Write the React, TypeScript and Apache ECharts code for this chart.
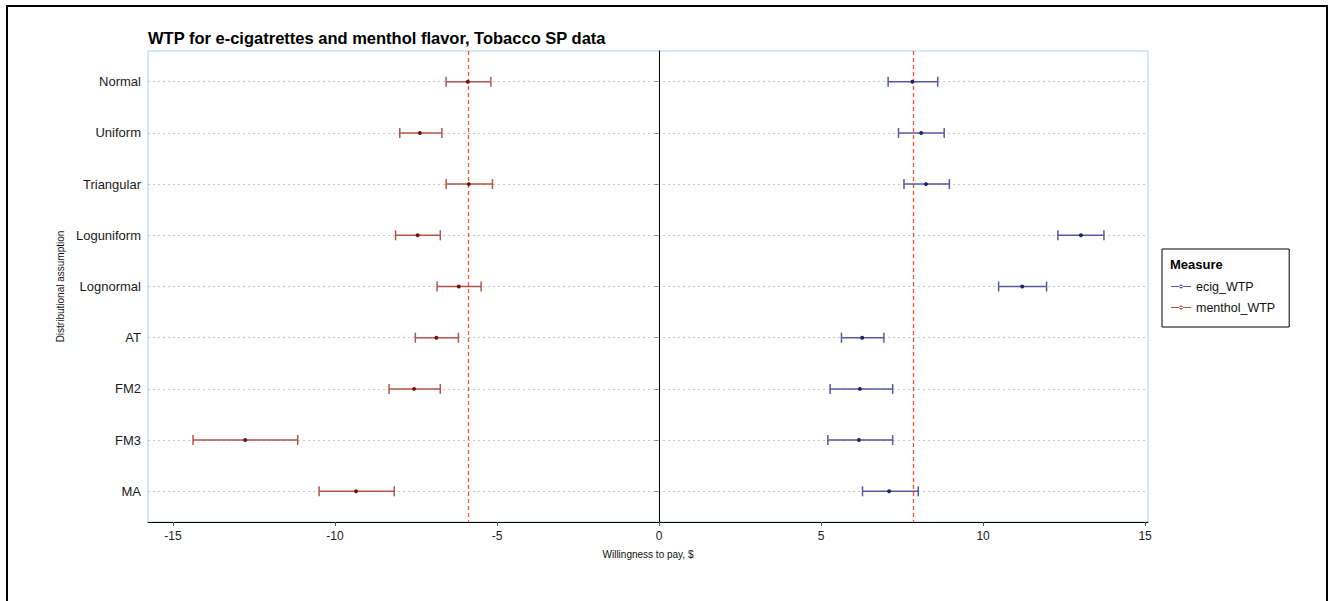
import React, { useEffect, useRef } from "react";
import * as echarts from "echarts";

const categories = ["Normal", "Uniform", "Triangular", "Loguniform", "Lognormal", "AT", "FM2", "FM3", "MA"];

// [low, estimate, high]
const ecigWTP: number[][] = [
  [7.07, 7.82, 8.6],
  [7.39, 8.09, 8.8],
  [7.56, 8.24, 8.96],
  [12.31, 13.02, 13.73],
  [10.48, 11.21, 11.96],
  [5.63, 6.27, 6.94],
  [5.28, 6.2, 7.21],
  [5.21, 6.17, 7.21],
  [6.28, 7.1, 8.0],
];

const mentholWTP: number[][] = [
  [-6.57, -5.9, -5.19],
  [-8.0, -7.38, -6.7],
  [-6.57, -5.87, -5.14],
  [-8.13, -7.45, -6.75],
  [-6.85, -6.18, -5.49],
  [-7.52, -6.87, -6.19],
  [-8.33, -7.56, -6.75],
  [-14.38, -12.77, -11.15],
  [-10.49, -9.35, -8.17],
];

const refLines = [-5.88, 7.84];
const xTicks = [-15, -10, -5, 0, 5, 10, 15];

const ECIG_LINE = "#5858a2";
const ECIG_PT = "#23235e";
const MENT_LINE = "#b0554b";
const MENT_PT = "#6e1510";

function rows(d: number[][]) {
  return d.map((r, i) => [i + 1, r[0], r[1], r[2]]);
}

function makeRender(lineColor: string, ptColor: string) {
  return (params: any, api: any) => {
    const y = api.value(0);
    const lo = api.coord([api.value(1), y]);
    const mid = api.coord([api.value(2), y]);
    const hi = api.coord([api.value(3), y]);
    const h = 5;
    const ls = { stroke: lineColor, lineWidth: 1.5 };
    return {
      type: "group",
      children: [
        { type: "line", shape: { x1: lo[0], y1: lo[1], x2: hi[0], y2: hi[1] }, style: ls },
        { type: "line", shape: { x1: lo[0], y1: lo[1] - h, x2: lo[0], y2: lo[1] + h }, style: ls },
        { type: "line", shape: { x1: hi[0], y1: hi[1] - h, x2: hi[0], y2: hi[1] + h }, style: ls },
        { type: "circle", shape: { cx: mid[0], cy: mid[1], r: 2 }, style: { fill: ptColor } },
      ],
    };
  };
}

const legendIcon = "path://M0,3.4 L20,3.4 L20,4.6 L0,4.6 Z M8,4 A2,2 0 1,0 12,4 A2,2 0 1,0 8,4 Z";

export default function App() {
  const ref = useRef<HTMLDivElement>(null);
  useEffect(() => {
    if (!ref.current) return;
    const chart = echarts.init(ref.current, null, { renderer: "svg" });
    const font = "'Liberation Sans', Arial, sans-serif";
    chart.setOption({
      animation: false,
      backgroundColor: "#ffffff",
      textStyle: { fontFamily: font },
      title: {
        text: "WTP for e-cigatrettes and menthol flavor, Tobacco SP data",
        left: 143,
        top: 24,
        textStyle: { fontSize: 16.5, fontWeight: "bold", color: "#000", fontFamily: font },
      },
      grid: {
        left: 148,
        right: 182,
        top: 51,
        bottom: 79,
        show: true,
        borderColor: "#a9d3e6",
        borderWidth: 1,
        backgroundColor: "#ffffff",
      },
      legend: {
        orient: "vertical",
        left: 1162,
        top: 249,
        padding: [31, 14, 13, 9],
        itemGap: 8,
        itemWidth: 20,
        itemHeight: 8,
        borderColor: "#000",
        borderWidth: 1,
        textStyle: { fontSize: 12.5, color: "#111", fontFamily: font },
        data: [
          { name: "ecig_WTP", icon: legendIcon, itemStyle: { color: ECIG_LINE } },
          { name: "menthol_WTP", icon: legendIcon, itemStyle: { color: MENT_LINE } },
        ],
      },
      graphic: [
        {
          type: "text",
          left: 1170,
          top: 258,
          style: { text: "Measure", fontSize: 13, fontWeight: "bold", fill: "#000", fontFamily: font },
        },
        {
          type: "rect",
          shape: { x: 7, y: 6, width: 1320, height: 610 },
          style: { fill: "none", stroke: "#000", lineWidth: 2 },
          silent: true,
        },
      ],
      xAxis: {
        type: "value",
        min: -15.77,
        max: 15.09,
        name: "Willingness to pay, $",
        nameLocation: "middle",
        nameGap: 27,
        nameTextStyle: { fontSize: 10, color: "#111", fontFamily: font },
        axisLine: { show: true, lineStyle: { color: "#000", width: 1 } },
        axisTick: { show: true, length: 4, lineStyle: { color: "#555" }, customValues: xTicks },
        axisLabel: { fontSize: 12, color: "#222", margin: 8, customValues: xTicks, fontFamily: font },
        splitLine: { show: false },
      },
      yAxis: {
        type: "value",
        min: 0.4,
        max: 9.6,
        inverse: true,
        name: "Distributional assumption",
        nameLocation: "middle",
        nameGap: 82,
        nameTextStyle: { fontSize: 10, color: "#111", fontFamily: font },
        axisLine: { show: true, lineStyle: { color: "#000", width: 1 } },
        axisTick: { show: true, length: 4, lineStyle: { color: "#888" }, customValues: categories.map((_, i) => i + 1) },
        axisLabel: {
          fontSize: 13,
          color: "#1a1a1a",
          margin: 7,
          fontFamily: font,
          customValues: categories.map((_, i) => i + 1),
          formatter: (v: number) => categories[Math.round(v) - 1] ?? "",
        },
        splitLine: { show: false },
      },
      series: [
        {
          name: "grid",
          type: "line",
          data: [],
          silent: true,
          markLine: {
            silent: true,
            symbol: "none",
            label: { show: false },
            lineStyle: { color: "#c8c8c8", type: [2, 3], width: 1 },
            data: categories.map((_, i) => ({ yAxis: i + 1 })),
          },
        },
        {
          name: "refs",
          type: "line",
          data: [],
          silent: true,
          markLine: {
            silent: true,
            symbol: "none",
            label: { show: false },
            data: [
              { xAxis: 0, lineStyle: { color: "#000", type: "solid", width: 1 } },
              ...refLines.map((v) => ({ xAxis: v, lineStyle: { color: "#ff5030", type: [4, 3], width: 1.3 } })),
            ],
          },
        },
        {
          name: "ecig_WTP",
          type: "custom",
          itemStyle: { color: ECIG_LINE },
          renderItem: makeRender(ECIG_LINE, ECIG_PT),
          encode: { x: [1, 2, 3], y: 0 },
          data: rows(ecigWTP),
          z: 5,
        },
        {
          name: "menthol_WTP",
          type: "custom",
          itemStyle: { color: MENT_LINE },
          renderItem: makeRender(MENT_LINE, MENT_PT),
          encode: { x: [1, 2, 3], y: 0 },
          data: rows(mentholWTP),
          z: 5,
        },
      ],
    });
    return () => chart.dispose();
  }, []);
  return (
    <div
      ref={ref}
      style={{ position: "fixed", left: 0, top: 0, width: 1330, height: 601, background: "#fff" }}
    />
  );
}
